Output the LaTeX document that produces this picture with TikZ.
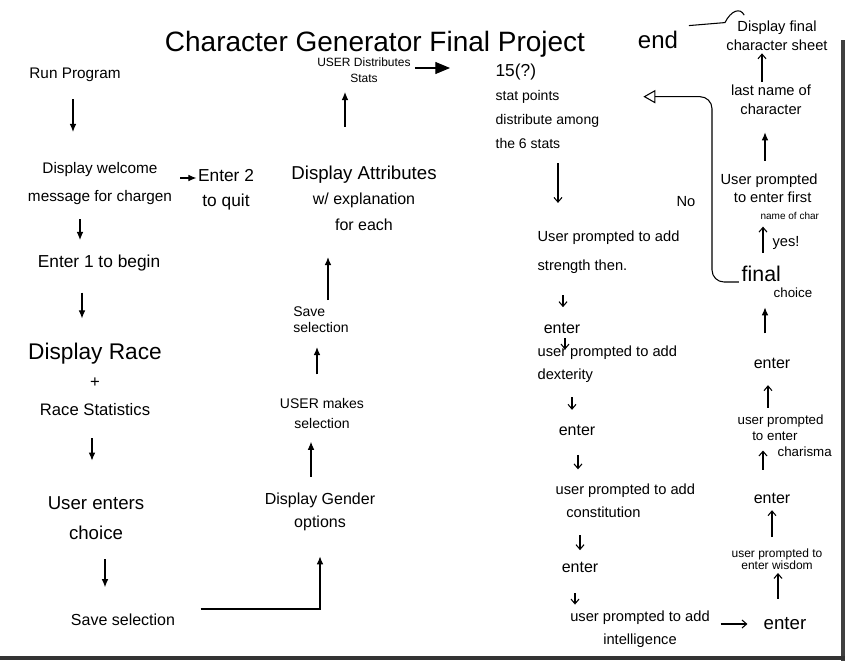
\documentclass[tikz,border=0pt]{standalone}
\usepackage{fontspec}
\setmainfont{Liberation Sans}
\usetikzlibrary{arrows.meta}
\begin{document}
\begin{tikzpicture}[x=0.75pt,y=-0.75pt,
  hw/.style={align=center, inner sep=1pt},
  fs/.style 2 args={font=\fontsize{#1}{#2}\selectfont},
  pen/.style={line width=0.8pt},
  arr/.style={pen, -{Latex[length=6pt,width=5pt]}},
  varr/.style={pen, -{Straight Barb[length=3.5pt,width=6pt]}},
  gap/.style 2 args={shorten <=#1, shorten >=#2},
]
\useasboundingbox (0,0) rectangle (845,661);
% scan border
\fill[black!75] (841,40) rectangle (845,661);
\fill[black!80] (0,656) rectangle (845,660);

% title
\node[hw, fs={21}{25}] (title) at (375,44) {Character Generator Final Project};
\node[hw, fs={18}{22}] (end) at (658,40) {end};
\node[hw, fs={11}{14}] (sheet) at (777,36) {Display final\\character sheet};

% column 1
\node[hw, fs={11.5}{14}] (run) at (75,75) {Run Program};
\node[hw, fs={11.5}{21}] (welcome) at (100,184) {Display welcome\\message for chargen};
\node[hw, fs={13}{19}] (quit) at (226,190) {Enter 2\\to quit};
\node[hw, fs={13}{15}] (begin) at (99,263) {Enter 1 to begin};
\node[hw, fs={12.5}{21}] (race) at (95,379) {{\fontsize{17}{21}\selectfont Display Race}\\+\\Race Statistics};
\node[hw, fs={14}{22}] (choice) at (96,518) {User enters\\choice};
\node[hw, fs={12}{14}] (save1) at (123,620) {Save selection};

% column 2
\node[hw, fs={12}{17}] (gender) at (320,512) {Display Gender\\options};
\node[hw, fs={10.5}{15}] (makes) at (322,413) {USER makes\\selection};
\node[hw, fs={10.5}{12}, align=left] (save2) at (321,320) {Save\\selection};
\node[hw, fs={12}{19}] (attr) at (364,198) {{\fontsize{14}{19}\selectfont Display Attributes}\\w/ explanation\\for each};
\node[hw, fs={9}{12}] (dist) at (364,70) {USER Distributes\\Stats};

% column 3
\node[hw, fs={10.5}{18}, align=left, anchor=west] (points) at (494,106) {{\fontsize{13}{18}\selectfont 15(?)}\\stat points\\distribute among\\the 6 stats};
\node[hw, fs={11}{22}, align=left, anchor=west] (str) at (536,252) {User prompted to add\\strength then.};
\node[hw, fs={12}{14}] (e1) at (562,328) {enter};
\node[hw, fs={11}{17}, align=left, anchor=west] (dex) at (536,364) {user prompted to add\\dexterity};
\node[hw, fs={12}{14}] (e2) at (577,430) {enter};
\node[hw, fs={11}{17}, align=left, anchor=west] (con) at (554,501) {user prompted to add\\\hspace*{8pt}constitution};
\node[hw, fs={12}{14}] (e3) at (580,567) {enter};
\node[hw, fs={11}{17}] (int) at (640,629) {user prompted to add\\intelligence};

% column 4
\node[hw, fs={14}{16}] (e4) at (785,624) {enter};
\node[hw, fs={9}{9}] (wis) at (777,559) {user prompted to\\enter wisdom};
\node[hw, fs={12}{14}] (e5) at (772,498) {enter};
\node[hw, fs={10}{12}, align=left, anchor=west] (cha) at (736,436) {user prompted\\\hspace*{11pt}to enter\\\hspace*{30pt}charisma};
\node[hw, fs={12}{14}] (e6) at (772,363) {enter};
\node[hw, fs={10}{12}, align=left] (final) at (777,282) {{\fontsize{16}{12}\selectfont final}\\\hspace*{24pt}choice};
\node[hw, fs={11}{13}, align=left, anchor=west] (first) at (719,197) {User prompted\\\hspace*{10pt}to enter first\\\hspace*{30pt}{\fontsize{7.5}{9}\selectfont name of char}};
\node[hw, fs={11}{14}] (last) at (771,100) {last name of\\character};
\node[hw, fs={11}{13}] (yes) at (786,243) {yes!};
\node[hw, fs={11}{13}] (no) at (686,202) {No};

% connectors column 1
\draw[arr, gap={12pt}{22pt}] (run.south -| 73,0) -- (welcome.north -| 73,0);
\draw[arr, gap={5pt}{0pt}] (welcome.east |- 0,178) -- (quit.west |- 0,178);
\draw[arr, gap={9.4pt}{10pt}] (welcome.south -| 80,0) -- (begin.north -| 80,0);
\draw[arr, gap={15pt}{17pt}] (begin.south -| 82,0) -- (race.north -| 82,0);
\draw[arr, gap={16pt}{26pt}] (race.south -| 92,0) -- (choice.north -| 92,0);
\draw[arr, gap={14pt}{19pt}] (choice.south -| 105,0) -- (save1.north -| 105,0);
\draw[arr, gap={18pt}{18pt}] (save1.east |- 0,609) -- (gender.south |- 0,609) -- (gender.south);

% connectors column 2
\draw[arr, gap={11pt}{9pt}] (gender.north -| 311,0) -- (makes.south -| 311,0);
\draw[arr, gap={16.5pt}{9.4pt}] (makes.north -| 317,0) -- (save2.south -| 317,0);
\draw[arr, gap={4pt}{19pt}] (save2.north -| 328,0) -- (attr.south -| 328,0);
\draw[arr, gap={28pt}{6pt}] (attr.north -| 345,0) -- (dist.south -| 345,0);
\draw[pen, -{Triangle[length=11pt,width=9pt]}, gap={2pt}{33pt}] (dist.east |- 0,68) -- (points.west |- 0,68);

% connectors column 3
\draw[varr, gap={10pt}{19.5pt}] (points.south -| 558,0) -- (str.north -| 558,0);
\draw[varr, gap={15pt}{10.5pt}] (str.south -| 563,0) -- (e1.north -| 563,0);
\draw[varr, gap={2.5pt}{-4pt}] (e1.south -| 565,0) -- (dex.north -| 565,0);
\draw[varr, gap={10pt}{10pt}] (dex.south -| 572,0) -- (e2.north -| 572,0);
\draw[varr, gap={13.5pt}{10pt}] (e2.south -| 578,0) -- (con.north -| 578,0);
\draw[varr, gap={12pt}{7.5pt}] (con.south -| 580,0) -- (e3.north -| 580,0);
\draw[varr, gap={14.5pt}{3.5pt}] (e3.south -| 575,0) -- (int.north -| 575,0);
\draw[varr, gap={7pt}{11pt}] (int.east |- e4.west) -- (e4.west);

% connectors column 4
\draw[varr, gap={13pt}{1.5pt}] (e4.north -| 778,0) -- (wis.south -| 778,0);
\draw[varr, gap={7.5pt}{4pt}] (wis.north -| 772,0) -- (e5.south -| 772,0);
\draw[varr, gap={16pt}{-6pt}] (e5.north -| 763,0) -- (cha.south -| 763,0);
\draw[varr, gap={4.5pt}{11.5pt}] (cha.north -| 768,0) -- (e6.south -| 768,0);
\draw[arr, gap={17pt}{6pt}] (e6.north -| 765,0) -- (final.south -| 765,0);
\draw[varr, gap={9pt}{4pt}] (final.north -| 763,0) -- (first.south -| 763,0);
\draw[arr, gap={9pt}{12pt}] (first.north -| 765,0) -- (last.south -| 765,0);
\draw[varr, gap={1.5pt}{0.75pt}] (last.north -| 762,0) -- (sheet.south -| 762,0);

% end to final sheet
\draw[pen] ([xshift=7pt,yshift=3pt]end.north east) -- ++(36,-3)
  .. controls +(6,-12) and +(-4,-8) .. ([xshift=14.5pt,yshift=3.4pt]sheet.north west);

% No loop back to stat points
\draw[pen, rounded corners=9pt, -{Triangle[open,length=9pt,width=10pt]}, shorten >=32pt]
  ([xshift=-1pt]final.west) -- (final.west -| 712,0) |- ([yshift=7pt]points.east);
\end{tikzpicture}
\end{document}
